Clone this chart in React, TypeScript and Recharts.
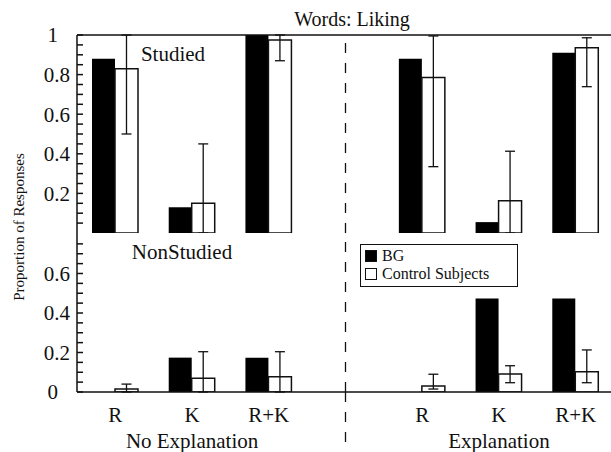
import React from "react";
import { BarChart, Bar, XAxis, YAxis, ErrorBar, ReferenceLine, Legend } from "recharts";

const conditions = ["No Explanation", "Explanation"];
const responseTypes = ["R", "K", "R+K"];

// Studied panel
const studiedBG = [0.88, 0.13, 1.0, 0.88, 0.055, 0.91];
const studiedControl = [0.83, 0.15, 0.975, 0.785, 0.163, 0.936];
const studiedControlErr = [[0.33, 0.17], [0.15, 0.3], [0.105, 0.025], [0.45, 0.21], [0.163, 0.25], [0.197, 0.05]];

// NonStudied panel
const nonStudiedBG = [0, 0.174, 0.174, 0, 0.474, 0.474];
const nonStudiedControl = [0.015, 0.069, 0.077, 0.03, 0.091, 0.103];
const nonStudiedControlErr = [[0.015, 0.025], [0.069, 0.135], [0.077, 0.127], [0.015, 0.06], [0.044, 0.042], [0.056, 0.11]];

const studiedTicks = [0.05, 0.1, 0.15, 0.2, 0.25, 0.3, 0.35, 0.4, 0.45, 0.5, 0.55, 0.6, 0.65, 0.7, 0.75, 0.8, 0.85, 0.9, 0.95, 1];
const studiedLabels = [0.2, 0.4, 0.6, 0.8, 1];
const nonStudiedTicks = [0, 0.05, 0.1, 0.15, 0.2, 0.25, 0.3, 0.35, 0.4, 0.45, 0.5, 0.55, 0.6, 0.65, 0.7, 0.75];
const nonStudiedLabels = [0, 0.2, 0.4, 0.6];

const GAP = "gap";
const FONT = "'Liberation Serif', 'Times New Roman', serif";

// one row per slot, with an empty slot between the two conditions
const rows: any[] = [];
conditions.forEach((cond, ci) => {
  if (ci > 0) rows.push({ slot: GAP, type: "", group: "" });
  responseTypes.forEach((type, ti) => {
    const i = ci * responseTypes.length + ti;
    rows.push({
      slot: `${cond}|${type}`,
      type,
      group: ti === 1 ? cond : "",
      sBG: studiedBG[i],
      sCtl: studiedControl[i],
      sErr: studiedControlErr[i],
      nBG: nonStudiedBG[i],
      nCtl: nonStudiedControl[i],
      nErr: nonStudiedControlErr[i],
    });
  });
});

const W = 640;
const Y_WIDTH = 70;
const margin = { top: 0, right: 26, left: 7, bottom: 0 };
const AXIS_X = margin.left + Y_WIDTH;

// label (majors only) plus a small inward tick mark on every tick
const makeYTick = (labels: number[]) => (props: any) => {
  const { x, y, payload } = props;
  const v = payload.value;
  const label = labels.find((l) => Math.abs(l - v) < 1e-6);
  const isInt = label !== undefined && Number.isInteger(label);
  return (
    <g>
      <line x1={AXIS_X} x2={AXIS_X + 6} y1={y} y2={y} stroke="#111" strokeWidth={1.5} />
      {label !== undefined && (
        <text x={isInt ? x - 12 : x} y={y} dy="0.35em" textAnchor="end" fontFamily={FONT} fontSize={21} fill="#111">
          {String(label)}
        </text>
      )}
    </g>
  );
};

const XTick = (props: any) => {
  const { x, y, payload } = props;
  if (payload.value === GAP) {
    return <line x1={x} x2={x} y1={y} y2={y + 62} stroke="#111" strokeWidth={1.3} strokeDasharray="10 10" />;
  }
  const row = rows.find((r) => r.slot === payload.value);
  return (
    <g fontFamily={FONT} fill="#111">
      <text x={x} y={y + 23} dy="0.35em" textAnchor="middle" fontSize={21}>
        {row?.type}
      </text>
      {row?.group && (
        <text x={x} y={y + 49} dy="0.35em" textAnchor="middle" fontSize={21}>
          {row.group}
        </text>
      )}
    </g>
  );
};

const LegendBox = (props: any) => {
  const items = props.payload || [];
  return (
    <div style={{ border: "1px solid #111", padding: "2px 6px 3px 4px", minWidth: 146, background: "#fff", fontFamily: FONT, fontSize: 16, lineHeight: "18px", color: "#111" }}>
      {items.map((it: any) => (
        <div key={it.value} style={{ display: "flex", alignItems: "center" }}>
          <span style={{ display: "inline-block", width: 12, height: 12, boxSizing: "border-box", border: "1.5px solid #111", background: it.color, marginRight: 5 }} />
          {it.value}
        </div>
      ))}
    </div>
  );
};

const textStyle: React.CSSProperties = { position: "absolute", transform: "translate(-50%, -50%)", fontFamily: FONT, color: "#111", whiteSpace: "nowrap" };

const yAxisProps = {
  allowDataOverflow: true,
  interval: 0 as const,
  width: Y_WIDTH,
  tickSize: 0,
  tickMargin: 7,
  tickLine: false,
  axisLine: { stroke: "#111", strokeWidth: 1.5 },
};

export default function App() {
  return (
    <div style={{ position: "fixed", left: 0, top: 0, width: 611, height: 452, overflow: "hidden", background: "#fff", fontFamily: FONT }}>
      <div style={{ position: "absolute", left: 0, top: 0 }}>
        <BarChart width={W} height={233} data={rows} margin={{ ...margin, top: 35 }} barSize={23} barGap={0}>
          <XAxis dataKey="slot" height={0} tick={false} tickLine={false} axisLine={{ stroke: "#111", strokeWidth: 1.5 }} />
          <YAxis {...yAxisProps} domain={[0, 1]} ticks={studiedTicks} tick={makeYTick(studiedLabels)} />
          <ReferenceLine y={1} stroke="#111" strokeWidth={1.5} />
          <ReferenceLine x={GAP} stroke="#111" strokeWidth={1.3} strokeDasharray="10 10" />
          <Bar dataKey="sBG" name="BG" fill="#000" isAnimationActive={false} />
          <Bar dataKey="sCtl" name="Control Subjects" fill="#fff" stroke="#111" strokeWidth={1.5} isAnimationActive={false}>
            <ErrorBar dataKey="sErr" width={5} stroke="#111" strokeWidth={1.3} />
          </Bar>
        </BarChart>
      </div>
      <div style={{ position: "absolute", left: 0, top: 233 }}>
        <BarChart width={W} height={219} data={rows} margin={margin} barSize={23} barGap={0}>
          <XAxis dataKey="slot" height={60} interval={0} tickSize={0} tickMargin={0} tickLine={false} axisLine={{ stroke: "#111", strokeWidth: 1.5 }} tick={<XTick />} />
          <YAxis {...yAxisProps} domain={[0, 0.805]} ticks={nonStudiedTicks} tick={makeYTick(nonStudiedLabels)} />
          <ReferenceLine x={GAP} stroke="#111" strokeWidth={1.3} strokeDasharray="10 10" />
          <Legend layout="vertical" align="center" verticalAlign="middle" content={<LegendBox />} wrapperStyle={{ left: 360, top: 11, width: "auto" }} />
          <Bar dataKey="nBG" name="BG" fill="#000" isAnimationActive={false} />
          <Bar dataKey="nCtl" name="Control Subjects" fill="#fff" stroke="#111" strokeWidth={1.5} isAnimationActive={false}>
            <ErrorBar dataKey="nErr" width={5} stroke="#111" strokeWidth={1.3} />
          </Bar>
        </BarChart>
      </div>
      <div style={{ ...textStyle, left: 352, top: 19, fontSize: 20 }}>Words: Liking</div>
      <div style={{ ...textStyle, left: 173, top: 54, fontSize: 21 }}>Studied</div>
      <div style={{ ...textStyle, left: 182, top: 252, fontSize: 21 }}>NonStudied</div>
      <div style={{ ...textStyle, left: 19, top: 227, fontSize: 15, transform: "translate(-50%, -50%) rotate(-90deg)" }}>Proportion of Responses</div>
    </div>
  );
}
